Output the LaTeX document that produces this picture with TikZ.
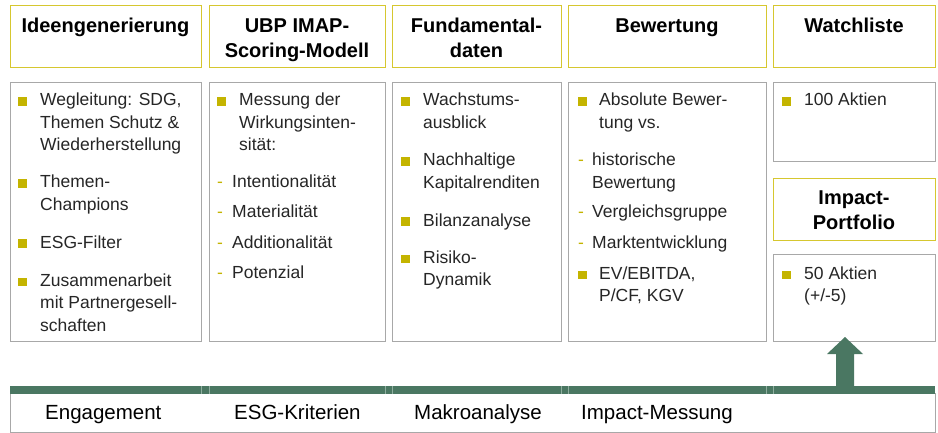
\documentclass[tikz,border=0pt]{standalone}
\usepackage{fontspec}
\setmainfont{Liberation Sans}
\definecolor{hdr}{HTML}{D6C72F}
\definecolor{bul}{HTML}{C4B400}
\definecolor{gborder}{HTML}{A8A8A8}
\definecolor{grn}{HTML}{4A7762}
\definecolor{grnlight}{HTML}{8FAE9F}
\definecolor{txt}{HTML}{262626}
\newcommand\mylines[1]{\begin{tabular}[t]{@{}l@{}}#1\end{tabular}}
\newcommand\mycenter[1]{\begin{tabular}[t]{@{}c@{}}#1\end{tabular}}
\newcommand\sqb[2]{\fill[sq] (#1,#2) rectangle ++(8.5,-8.5);}
\begin{document}
\begin{tikzpicture}[x=1pt,y=-1pt,
  hbox/.style={draw=hdr,line width=1.3pt,fill=white,anchor=north west,inner sep=0pt},
  bbox/.style={draw=gborder,line width=1.3pt,fill=white,anchor=north west,inner sep=0pt},
  htext/.style={font=\fontsize{20}{25}\selectfont\bfseries, anchor=base, inner sep=0pt, text=black},
  itext/.style={font=\fontsize{17.5}{22.5}\selectfont, anchor=base west, inner sep=0pt, text=txt},
  sq/.style={fill=bul},
  dashmark/.style={font=\fontsize{17.5}{22.5}\selectfont, anchor=base west, inner sep=0pt, text=bul},
  blabel/.style={font=\fontsize{20.5}{22}\selectfont, anchor=base west, inner sep=0pt, text=black}
]
\useasboundingbox (0,0) rectangle (938,433);

% header boxes
\node[hbox, minimum width=191pt, minimum height=62pt] (h1) at (10,5) {};
\node[hbox, minimum width=176pt, minimum height=62pt] (h2) at (209,5) {};
\node[hbox, minimum width=169pt, minimum height=62pt] (h3) at (392,5) {};
\node[hbox, minimum width=198pt, minimum height=62pt] (h4) at (568,5) {};
\node[hbox, minimum width=162pt, minimum height=62pt] (h5) at (773,5) {};
\node[hbox, minimum width=162pt, minimum height=62pt] (h6) at (773,178) {};

% body boxes
\node[bbox, minimum width=191pt, minimum height=259pt] (b1) at (10,82) {};
\node[bbox, minimum width=176pt, minimum height=259pt] (b2) at (209,82) {};
\node[bbox, minimum width=169pt, minimum height=259pt] (b3) at (392,82) {};
\node[bbox, minimum width=198pt, minimum height=259pt] (b4) at (568,82) {};
\node[bbox, minimum width=162pt, minimum height=79pt] (b5) at (773,82) {};
\node[bbox, minimum width=162pt, minimum height=87pt] (b6) at (773,254) {};

% header texts
\node[htext] (t1) at (105.5,32.5) {Ideengenerierung};
\node[htext] (t2) at (297,32.5) {\mycenter{UBP IMAP-\\Scoring-Modell}};
\node[htext] (t3) at (476.5,32.5) {\mycenter{Fundamental-\\daten}};
\node[htext] (t4) at (667,32.5) {Bewertung};
\node[htext] (t5) at (854,32.5) {Watchliste};
\node[htext] (t6) at (854,204.5) {\mycenter{Impact-\\Portfolio}};

% column 1
\sqb{18}{106}\node[itext] (c1a) at (40,106) {\mylines{Wegleitung: SDG,\\Themen Schutz \&\\Wiederherstellung}};
\sqb{18}{188}\node[itext] (c1b) at (40,188) {\mylines{Themen-\\Champions}};
\sqb{18}{248}\node[itext] (c1c) at (40,248) {ESG-Filter};
\sqb{18}{286}\node[itext] (c1d) at (40,286) {\mylines{Zusammenarbeit\\mit Partnergesell-\\schaften}};

% column 2
\sqb{217}{106}\node[itext] (c2a) at (239,106) {\mylines{Messung der\\Wirkungsinten-\\sität:}};
\node[dashmark] (d2a) at (217,188) {-};\node[itext] (c2b) at (232,188) {Intentionalität};
\node[dashmark] (d2b) at (217,218) {-};\node[itext] (c2c) at (232,218) {Materialität};
\node[dashmark] (d2c) at (217,248) {-};\node[itext] (c2d) at (232,248) {Additionalität};
\node[dashmark] (d2d) at (217,278) {-};\node[itext] (c2e) at (232,278) {Potenzial};

% column 3
\sqb{401}{106}\node[itext] (c3a) at (423,106) {\mylines{Wachstums-\\ausblick}};
\sqb{401}{166}\node[itext] (c3b) at (423,166) {\mylines{Nachhaltige\\Kapitalrenditen}};
\sqb{401}{226}\node[itext] (c3c) at (423,226) {Bilanzanalyse};
\sqb{401}{263}\node[itext] (c3d) at (423,263) {\mylines{Risiko-\\Dynamik}};

% column 4
\sqb{578}{106}\node[itext] (c4a) at (599,106) {\mylines{Absolute Bewer-\\tung vs.}};
\node[dashmark] (d4a) at (578,166) {-};\node[itext] (c4b) at (592,166) {\mylines{historische\\Bewertung}};
\node[dashmark] (d4b) at (578,218) {-};\node[itext] (c4c) at (592,218) {Vergleichsgruppe};
\node[dashmark] (d4c) at (578,248) {-};\node[itext] (c4d) at (592,248) {Marktentwicklung};
\sqb{578}{279}\node[itext] (c4e) at (599,279) {\mylines{EV/EBITDA,\\P/CF, KGV}};

% column 5
\sqb{782}{106}\node[itext] (c5a) at (804,106) {100 Aktien};
\sqb{782}{279}\node[itext] (c6a) at (804,279) {\mylines{50 Aktien\\(+/-5)}};

% bottom bar
\node[bbox, minimum width=925pt, minimum height=39pt] (bottom) at (10,393) {};
\fill[grn] (10,386) rectangle (935,393.6);
\foreach \xx in {201,209,385,392,561,568,766,773}
  \draw[grnlight, line width=0.6pt] (\xx,386) -- (\xx,393.6);

\node[blabel] (l1) at (45,419) {Engagement};
\node[blabel] (l2) at (234,419) {ESG-Kriterien};
\node[blabel] (l3) at (414,419) {Makroanalyse};
\node[blabel] (l4) at (581,419) {Impact-Messung};

% arrow
\coordinate (abase) at (845,386);
\fill[grn] (abase) ++(-9,0) -- ++(0,-32) -- ++(-9,0) -- ++(18,-17) -- ++(18,17) -- ++(-9,0) -- ++(0,32) -- cycle;
\end{tikzpicture}
\end{document}
